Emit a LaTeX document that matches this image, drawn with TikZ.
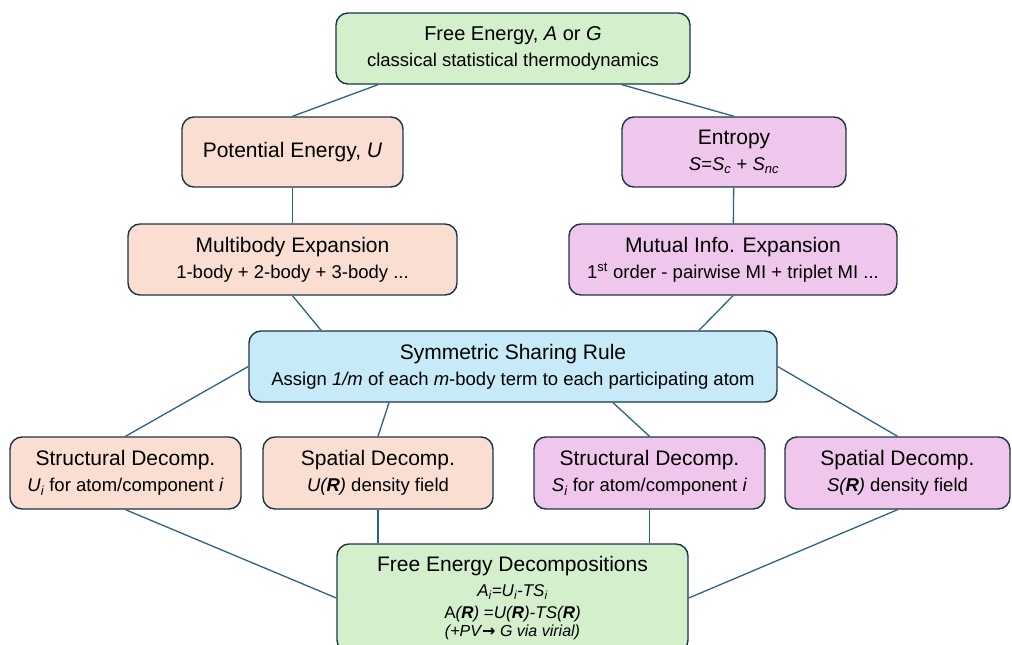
\documentclass[tikz,border=0pt]{standalone}
\usepackage{fontspec}
\setmainfont{Liberation Sans}
\newfontfamily\arrowfont{DejaVu Sans}
\usepackage{tikz}
\usetikzlibrary{calc,positioning}

\definecolor{fegreen}{HTML}{D4EFCC}
\definecolor{upeach}{HTML}{FADED2}
\definecolor{spink}{HTML}{F0C7EC}
\definecolor{rulblue}{HTML}{C6EAF8}
\definecolor{boxline}{HTML}{1C3448}
\definecolor{linkblue}{HTML}{2A6385}

\newcommand{\ttl}[1]{{\fontsize{21}{26}\selectfont #1}}

\begin{document}
\begin{tikzpicture}[x=1pt,y=-1pt,
  box/.style={draw=boxline, line width=1.4pt, rounded corners=12pt,
    align=center, inner sep=2pt, font=\fontsize{18.5}{26}\selectfont},
  link/.style={draw=linkblue, line width=1.3pt}]

\useasboundingbox (0,0) rectangle (1012,645);

%%%%%%%%%%%%%%% top
\node[box, fill=fegreen, minimum width=354pt, minimum height=71pt] (FE) at (513,48.5)
  {{\fontsize{20}{26}\selectfont Free Energy, \textit{A} or \textit{G}}\\ classical statistical thermodynamics};

\node[box, fill=upeach, minimum width=221pt, minimum height=70pt] (PE) at (292.5,152)
  {\ttl{Potential Energy, \textit{U}}};
\node[box, fill=spink, minimum width=224pt, minimum height=70pt] (EN) at (734,152)
  {\ttl{Entropy}\\ \textit{S}=\textit{S\textsubscript{c}} + \textit{S\textsubscript{nc}}};

\node[box, fill=upeach, minimum width=329pt, minimum height=71pt] (MB) at (292.5,259.5)
  {\ttl{Multibody Expansion}\\ 1-body + 2-body + 3-body ...};
\node[box, fill=spink, minimum width=328pt, minimum height=71pt] (MI) at (733,259.5)
  {\ttl{Mutual Info. Expansion}\\ 1\textsuperscript{st} order - pairwise MI + triplet MI ...};

%%%%%%%%%%%%%%% sharing rule
\node[box, fill=rulblue, minimum width=528pt, minimum height=71pt] (SSR) at (513,366.5)
  {\ttl{Symmetric Sharing Rule}\\ Assign \textit{1/m} of each \textit{m}-body term to each participating atom};

%%%%%%%%%%%%%%% decompositions
\node[box, fill=upeach, minimum width=231pt, minimum height=72pt] (SU) at (125.5,473)
  {\ttl{Structural Decomp.}\\ \textit{U\textsubscript{i}} for atom/component \textit{i}};
\node[box, fill=upeach, minimum width=230pt, minimum height=72pt] (PU) at (378,473)
  {\ttl{Spatial Decomp.}\\ \textit{U(\textbf{R})} density field};
\node[box, fill=spink, minimum width=231pt, minimum height=72pt] (SS) at (649.5,473)
  {\ttl{Structural Decomp.}\\ \textit{S\textsubscript{i}} for atom/component \textit{i}};
\node[box, fill=spink, minimum width=225pt, minimum height=72pt] (PS) at (897.5,473)
  {\ttl{Spatial Decomp.}\\ \textit{S(\textbf{R})} density field};

%%%%%%%%%%%%%%% bottom
\node[box, fill=fegreen, minimum width=351pt, minimum height=108pt,
  font=\fontsize{17}{22}\selectfont] (FED) at (512.5,598)
  {\ttl{Free Energy Decompositions}\\[3pt]
   \textit{A\textsubscript{i}=U\textsubscript{i}-TS\textsubscript{i}}\\
   A\textit{(\textbf{R})} =\textit{U(\textbf{R})-TS(\textbf{R})}\\[-4pt]
   {\fontsize{16}{18}\selectfont\textit{(+PV}{\arrowfont\bfseries →}\textit{ G via virial)}}};

%%%%%%%%%%%%%%% connectors
\draw[link] ([xshift=-135pt]FE.south) -- (PE.north);
\draw[link] ([xshift=109pt]FE.south) -- (EN.north);
\draw[link] (PE) -- (MB);
\draw[link] (EN) -- (MI);
\draw[link] (MB.south) -- ([xshift=-192pt]SSR.north);
\draw[link] (MI.south) -- ([xshift=186pt]SSR.north);
\draw[link] (SSR.west) -- (SU.north);
\draw[link] ([xshift=-124pt]SSR.south) -- (PU.north);
\draw[link] ([xshift=100pt]SSR.south) -- (SS.north);
\draw[link] (SSR.east) -- (PS.north);
\draw[link] (SU.south) -- (FED.west);
\draw[link] (PU.south) -- (PU.south |- FED.north);
\draw[link] (SS.south) -- (SS.south |- FED.north);
\draw[link] (PS.south) -- (FED.east);

\end{tikzpicture}
\end{document}
